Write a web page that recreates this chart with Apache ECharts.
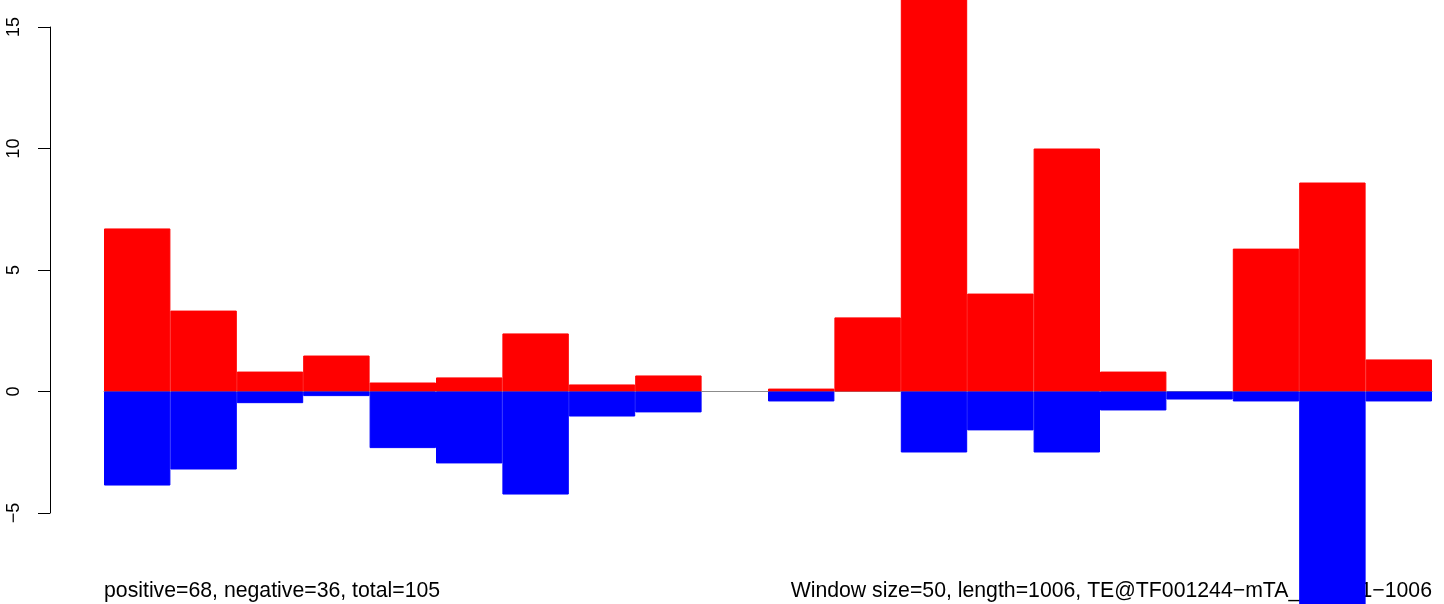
<!DOCTYPE html>
<html>
<head>
<meta charset="utf-8">
<script src="https://cdn.jsdelivr.net/npm/echarts@6/dist/echarts.min.js"></script>
<style>
html,body{margin:0;padding:0;background:#fff;}
#chart{width:1444px;height:604px;}
</style>
</head>
<body>
<div id="chart"></div>
<script>
// Window start positions (window size 50, length 1006)
const categories = ['1','51','101','151','201','251','301','351','401','451','501','551','601','651','701','751','801','851','901','951'];
// Positive (red) and negative (blue) values per window
const posValues = [6.71, 3.33, 0.82, 1.48, 0.37, 0.58, 2.39, 0.29, 0.66, 0, 0.12, 3.05, 17.5, 4.03, 10.0, 0.82, 0, 5.88, 8.60, 1.32];
const negValues = [-3.87, -3.21, -0.48, -0.19, -2.33, -2.96, -4.24, -1.03, -0.86, 0, -0.41, 0, -2.51, -1.60, -2.51, -0.78, -0.33, -0.41, -9.5, -0.41];
// Y tick range
const yTicks = [-5, 0, 5, 10, 15];
const leftNote = 'positive=68, negative=36, total=105';
const rightNote = 'Window size=50, length=1006, TE@TF001244\u2212mTA_Ele29:1\u22121006';

const FONT = "'Liberation Sans', Arial, Helvetica, sans-serif";
// zero-height windows draw nothing
const asBars = arr => arr.map(v => (v === 0 ? null : v));

const chart = echarts.init(document.getElementById('chart'), null, {renderer: 'canvas'});
chart.setOption({
  animation: false,
  backgroundColor: '#ffffff',
  title: [
    {text: leftNote, left: 104, bottom: 2, padding: 0, z: 1,
     textStyle: {fontSize: 21.25, fontWeight: 'normal', color: '#000', fontFamily: FONT}},
    {text: rightNote, right: 12, bottom: 2, padding: 0, z: 1,
     textStyle: {fontSize: 21.25, fontWeight: 'normal', color: '#000', fontFamily: FONT}}
  ],
  grid: {left: 104, right: 12, top: 27, bottom: 91, containLabel: false},
  xAxis: {
    type: 'category', data: categories, boundaryGap: true,
    axisLine: {show: true, onZero: true, lineStyle: {color: '#8c8c8c', width: 1}},
    axisTick: {show: false}, axisLabel: {show: false}, splitLine: {show: false}
  },
  yAxis: {
    type: 'value', min: yTicks[0], max: yTicks[yTicks.length - 1], interval: 5,
    position: 'left', offset: 54,
    axisLine: {show: true, lineStyle: {color: '#000', width: 1}},
    axisTick: {show: true, length: 12, inside: false, lineStyle: {color: '#000', width: 1}},
    axisLabel: {show: true, rotate: 90, margin: 27, fontSize: 18, color: '#000', fontFamily: FONT,
      formatter: v => String(v).replace('-', '\u2212')},
    splitLine: {show: false}
  },
  series: [
    {type: 'bar', data: asBars(posValues), itemStyle: {color: '#ff0000', borderColor: '#ff0000', borderWidth: 1}, barWidth: '100%', barGap: '-100%', barCategoryGap: '0%', clip: false, silent: true, z: 2},
    {type: 'bar', data: asBars(negValues), itemStyle: {color: '#0000ff', borderColor: '#0000ff', borderWidth: 1}, barWidth: '100%', barGap: '-100%', barCategoryGap: '0%', clip: false, silent: true, z: 2}
  ]
});
</script>
</body>
</html>
